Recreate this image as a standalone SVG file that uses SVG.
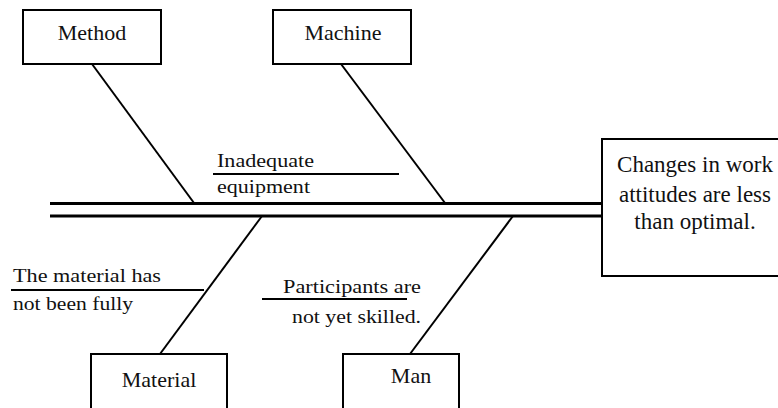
<svg xmlns="http://www.w3.org/2000/svg" width="778" height="408" viewBox="0 0 778 408">
<style>
.box{fill:#fff;stroke:#000;stroke-width:2}
.bone{stroke:#000;stroke-width:2;fill:none}
.spine{stroke:#000;stroke-width:3;fill:none}
.ul{stroke:#000;stroke-width:2;fill:none}
text{font-family:'Liberation Serif','Tinos','DejaVu Serif','Times New Roman',serif;fill:#111}
.big{font-size:22px}
.eff{font-size:23px}
.sm{font-size:18px}
</style>
<rect width="778" height="408" fill="#fff"/>
<g id="connectors">
<line class="spine" x1="50" y1="203.5" x2="603" y2="203.5"/>
<line class="spine" x1="50" y1="216" x2="603" y2="216"/>
<line class="bone" x1="92" y1="64" x2="194" y2="203"/>
<line class="bone" x1="341" y1="64" x2="445" y2="203"/>
<line class="bone" x1="262" y1="216" x2="160" y2="354"/>
<line class="bone" x1="513" y1="216" x2="410" y2="354"/>
</g>
<g id="method">
<rect class="box" x="23" y="10" width="138" height="54"/>
<text class="big" x="92" y="40" text-anchor="middle" font-family="Liberation Serif, serif">Method</text>
</g>
<g id="machine">
<rect class="box" x="273" y="10" width="138" height="54"/>
<text class="big" x="343" y="40" text-anchor="middle" font-family="Liberation Serif, serif">Machine</text>
</g>
<g id="material">
<rect class="box" x="91" y="354" width="136" height="70"/>
<text class="big" x="159" y="387" text-anchor="middle" font-family="Liberation Serif, serif">Material</text>
</g>
<g id="man">
<rect class="box" x="343" y="354" width="116" height="70"/>
<text class="big" x="411" y="383" text-anchor="middle" font-family="Liberation Serif, serif">Man</text>
</g>
<g id="effect">
<rect class="box" x="602" y="139" width="190" height="137"/>
<text class="eff" x="695" y="172" text-anchor="middle">Changes in work</text>
<text class="eff" x="695" y="202" text-anchor="middle">attitudes are less</text>
<text class="eff" x="695" y="229" text-anchor="middle">than optimal.</text>
</g>
<g id="cause-equipment">
<text class="sm" x="217" y="167" textLength="97" lengthAdjust="spacingAndGlyphs">Inadequate</text>
<line class="ul" x1="213" y1="174" x2="399" y2="174"/>
<text class="sm" x="217" y="193" textLength="93" lengthAdjust="spacingAndGlyphs">equipment</text>
</g>
<g id="cause-material">
<text class="sm" x="13" y="282" textLength="148" lengthAdjust="spacingAndGlyphs">The material has</text>
<line class="ul" x1="11" y1="290" x2="204" y2="290"/>
<text class="sm" x="13" y="310" textLength="120" lengthAdjust="spacingAndGlyphs">not been  fully</text>
</g>
<g id="cause-man">
<text class="sm" x="283" y="293" textLength="138" lengthAdjust="spacingAndGlyphs">Participants are</text>
<line class="ul" x1="262" y1="299" x2="407" y2="299"/>
<text class="sm" x="292" y="323" textLength="129" lengthAdjust="spacingAndGlyphs">not yet skilled.</text>
</g>
</svg>
